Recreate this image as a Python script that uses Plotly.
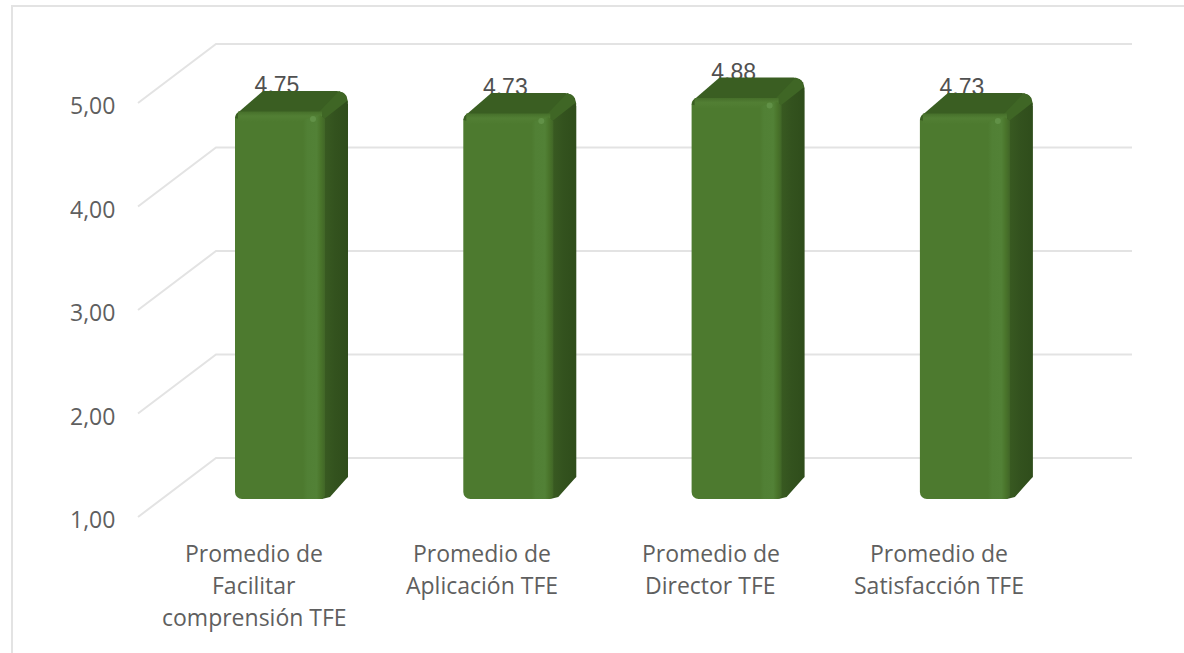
import plotly.graph_objects as go

category_lines = [
    ["Promedio de", "Facilitar", "comprensión TFE"],
    ["Promedio de", "Aplicación TFE"],
    ["Promedio de", "Director TFE"],
    ["Promedio de", "Satisfacción TFE"],
]
values = [4.75, 4.73, 4.88, 4.73]
y_ticks = [1, 2, 3, 4, 5]

# scale of the picture: pixels per unit
PX_X = 228.3
PX_Y = 103.5
W, H = 1184, 653
L, R, T, B = 126, 1180, 3, 650
X0 = 254   # pixel of category index 0
Y1 = 517   # pixel of value 1 on the front plane


def ux(px):
    return px / PX_X


def uy(px):
    return px / PX_Y


x_range = [(L - X0) / PX_X, (R - X0) / PX_X]
y_range = [1 - (B - Y1) / PX_Y, 1 + (Y1 - T) / PX_Y]

FRONT = "#4d7a2f"
TOPC = "#3a5e22"
GRID = "#e3e3e3"
TXT = "#5f5f5f"

BAR_OFF = 26 / PX_X      # bar centre right of the label centre
BAR_W = 90 / PX_X
BASE_UP = uy(18)         # bar sits above floor front edge
DX, DY = ux(23), uy(20)  # bar depth
WALL_X0 = ux(138 - X0)
WALL_DX, WALL_DY = ux(78), uy(59)
WALL_END = ux(1132 - X0)

fig = go.Figure()

shapes = []
for t in y_ticks:
    shapes.append(dict(type="path", layer="below", xref="x", yref="y",
                       line=dict(color=GRID, width=2),
                       path=f"M {WALL_X0},{t} L {WALL_X0 + WALL_DX},{t + WALL_DY} L {WALL_END},{t + WALL_DY}"))


def paper_x(px):
    return (px - L) / (R - L)


def paper_y(py):
    return 1 - (py - T) / (B - T)


shapes.append(dict(type="path", layer="below", xref="paper", yref="paper",
                   line=dict(color=GRID, width=2),
                   path=f"M {paper_x(12)},{paper_y(660)} L {paper_x(12)},{paper_y(6)} L {paper_x(1190)},{paper_y(6)}"))

# front faces
xs = [i + BAR_OFF for i in range(len(values))]
base = 1 + BASE_UP
fig.add_trace(go.Bar(x=xs, y=[v - 1 for v in values], base=[base] * len(values), width=BAR_W,
                     marker=dict(color=FRONT, line=dict(width=0), cornerradius=7),
                     showlegend=False, hoverinfo="skip"))

# value labels sit behind the top faces
fig.add_trace(go.Scatter(x=[i + ux(23) for i in range(len(values))],
                         y=[v + BASE_UP + uy(23.5) for v in values],
                         mode="text", text=[f"{v:.2f}".replace(".", ",") for v in values],
                         textfont=dict(family="Liberation Sans", size=23, color="#505050"),
                         textposition="middle center", showlegend=False, hoverinfo="skip"))


def poly(px, py, color=None, grad=None, kind="horizontal"):
    kw = dict(fillcolor=color) if grad is None else dict(
        fillgradient=dict(type=kind, colorscale=grad))
    fig.add_trace(go.Scatter(x=px, y=py, mode="lines", fill="toself",
                             line=dict(width=0, color="rgba(0,0,0,0)"),
                             showlegend=False, hoverinfo="skip", **kw))


SIDE_GRAD = [[0, "#3a5c22"], [0.5, "#33521e"], [1, "#2f4d1b"]]
RIGHT_GRAD = [[0, "#4d7a2f"], [0.2, "#518035"], [0.62, "#528136"], [0.8, "#4a752b"], [1, "#416627"]]
TOP_STRIP = [[0, "#4d7a2f"], [0.55, "#527f34"], [1, "#466f2a"]]

for i, v in enumerate(values):
    cx = i + BAR_OFF
    xl, xr = cx - BAR_W / 2, cx + BAR_W / 2
    bot = base
    top = v + BASE_UP
    xb = xr + DX
    # top face
    poly([xl, xl + ux(1.5), xl + ux(6), xl + ux(28), xb - ux(11), xb - ux(5), xb - ux(1.5), xb, xr, xl + ux(4), xl],
         [top - uy(7), top - uy(3), top + uy(1), top + DY, top + DY, top + DY - uy(1.5), top + DY - uy(5), top + DY - uy(11), top - uy(8), top - uy(8), top - uy(7)],
         color=TOPC)
    # lighter ridge between top and side
    poly([xr - ux(6), xb - ux(9), xb - ux(3), xb, xr],
         [top - uy(1), top + DY, top + DY - uy(3), top + DY - uy(12), top - uy(9)],
         color="#3f6625")
    # side face
    poly([xr - ux(1), xb - ux(1), xb, xb, xb - ux(2), xr + ux(5), xr - ux(3), xr - ux(1)],
         [top - uy(8), top + DY - uy(10), top + DY - uy(13), bot + DY + uy(2), bot + DY - uy(0), bot + uy(2), bot, top - uy(8)],
         grad=SIDE_GRAD)
    # bevels of the front face
    poly([xl + ux(3), xr - ux(3), xr - ux(3), xl + ux(3)],
         [top - uy(0.5), top - uy(0.5), top - uy(11), top - uy(11)],
         grad=TOP_STRIP, kind="vertical")
    poly([xr - ux(22), xr - ux(5), xr, xr, xr - ux(3), xr - ux(22)],
         [top - uy(9), top - uy(4), top - uy(8), bot + uy(3), bot, bot],
         grad=RIGHT_GRAD)
    fig.add_trace(go.Scatter(x=[xr - ux(12)], y=[top - uy(8)], mode="markers",
                             marker=dict(size=6, color="#64944a", opacity=0.85, line=dict(width=0)),
                             showlegend=False, hoverinfo="skip"))

# category labels, one per line
annotations = []
for i, lines in enumerate(category_lines):
    for j, line in enumerate(lines):
        annotations.append(dict(x=i, y=1 - uy(553 + 32 * j - Y1), xref="x", yref="y", text=line, showarrow=False,
                                xanchor="center", yanchor="middle",
                                font=dict(family="Open Sans", size=23, color=TXT)))

fig.update_layout(
    width=W, height=H, autosize=False,
    margin=dict(l=L, r=W - R, t=T, b=H - B, pad=0),
    paper_bgcolor="white", plot_bgcolor="rgba(0,0,0,0)",
    separators=",.", barmode="overlay", showlegend=False,
    shapes=shapes, annotations=annotations,
    xaxis=dict(range=x_range, showgrid=False, zeroline=False, showline=False, showticklabels=False, ticks="", fixedrange=True),
    yaxis=dict(range=y_range, tickvals=y_ticks, tickformat=".2f", showgrid=False, zeroline=False, showline=False,
               ticks="outside", ticklen=5, tickcolor="rgba(0,0,0,0)", ticklabelshift=3,
               tickfont=dict(family="Open Sans", size=23, color=TXT), fixedrange=True),
)
fig.write_html("out.html", config=dict(displayModeBar=False),
               post_script="document.body.style.margin='0';")
